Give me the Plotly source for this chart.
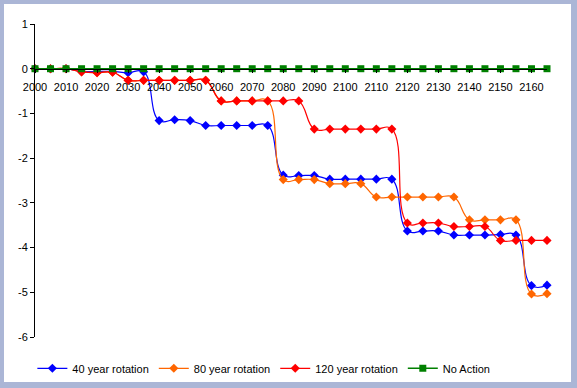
import plotly.graph_objects as go

years = [2000, 2005, 2010, 2015, 2020, 2025, 2030, 2035, 2040, 2045, 2050, 2055,
         2060, 2065, 2070, 2075, 2080, 2085, 2090, 2095, 2100, 2105, 2110, 2115,
         2120, 2125, 2130, 2135, 2140, 2145, 2150, 2155, 2160, 2165]

rot40 = [0, 0, 0, -0.06, -0.06, -0.06, -0.09, -0.07, -1.16, -1.14, -1.16, -1.27,
         -1.27, -1.27, -1.27, -1.27, -2.38, -2.39, -2.39, -2.47, -2.47, -2.47, -2.47, -2.47,
         -3.63, -3.63, -3.63, -3.72, -3.72, -3.72, -3.71, -3.72, -4.85, -4.84]

rot80 = [0, 0, 0, -0.07, -0.09, -0.08, -0.26, -0.26, -0.26, -0.26, -0.26, -0.26,
         -0.72, -0.72, -0.72, -0.72, -2.48, -2.48, -2.48, -2.57, -2.57, -2.57, -2.87, -2.87,
         -2.87, -2.87, -2.87, -2.87, -3.38, -3.38, -3.38, -3.38, -5.04, -5.03]

rot120 = [0, 0, 0, -0.07, -0.09, -0.08, -0.26, -0.26, -0.26, -0.26, -0.26, -0.26,
          -0.72, -0.72, -0.72, -0.72, -0.72, -0.72, -1.35, -1.35, -1.35, -1.35, -1.35, -1.35,
          -3.45, -3.45, -3.45, -3.53, -3.53, -3.53, -3.84, -3.84, -3.84, -3.84]

no_action = [0] * 34

x_ticks = [2000, 2010, 2020, 2030, 2040, 2050, 2060, 2070, 2080,
           2090, 2100, 2110, 2120, 2130, 2140, 2150, 2160]
y_ticks = [1, 0, -1, -2, -3, -4, -5, -6]

FONT = "Arial, 'Liberation Sans', sans-serif"

fig = go.Figure()
series = [
    ("40 year rotation", rot40, "#0000FF", "diamond", 7),
    ("80 year rotation", rot80, "#FF6600", "diamond", 7),
    ("120 year rotation", rot120, "#FF0000", "diamond", 7),
]
for name, vals, col, sym, sz in series:
    fig.add_trace(go.Scatter(
        x=years, y=vals, name=name, mode="lines+markers",
        line=dict(color=col, width=1.2, shape="spline", smoothing=1.3),
        marker=dict(symbol=sym, size=sz, color=col),
        cliponaxis=False))
fig.add_trace(go.Scatter(
    x=years, y=no_action, name="No Action", mode="lines+markers",
    line=dict(color="#008000", width=1.5),
    marker=dict(symbol="square", size=7, color="#008000"),
    cliponaxis=False))

fig.update_layout(
    width=577, height=388,
    margin=dict(l=35, r=30, t=24, b=51, autoexpand=False),
    paper_bgcolor="#ABB6D6",
    plot_bgcolor="white",
    font=dict(family=FONT, size=11, color="black"),
    showlegend=True,
    legend=dict(orientation="h", x=0.447, xanchor="center", y=-0.1, yanchor="middle",
                font=dict(family=FONT, size=11, color="black"),
                bgcolor="rgba(0,0,0,0)", itemwidth=30, tracegroupgap=0),
    shapes=[dict(type="rect", xref="paper", yref="paper",
                 x0=(4 - 35) / 512, x1=(571 - 35) / 512,
                 y0=(337 - 382) / 313, y1=(337 - 4) / 313,
                 fillcolor="white", line=dict(width=0), layer="below")],
    xaxis=dict(range=[2000, 2165], tickvals=x_ticks, ticktext=[str(t) for t in x_ticks],
               anchor="free", position=6 / 7, showline=True, linecolor="black", linewidth=1,
               ticks="outside", ticklen=3, tickcolor="black", showgrid=False, zeroline=False,
               automargin=False, ticklabelstandoff=5, tickfont=dict(family=FONT, size=11)),
    yaxis=dict(range=[-6, 1], tickvals=y_ticks, ticktext=[str(t) for t in y_ticks],
               showline=True, linecolor="black", linewidth=1, ticks="outside", ticklen=4,
               tickcolor="black", showgrid=False, zeroline=False, automargin=False,
               tickfont=dict(family=FONT, size=11)),
)

fig.write_html("out.html", config={"displayModeBar": False},
               post_script="document.body.style.margin='0';document.body.style.overflow='hidden';")
